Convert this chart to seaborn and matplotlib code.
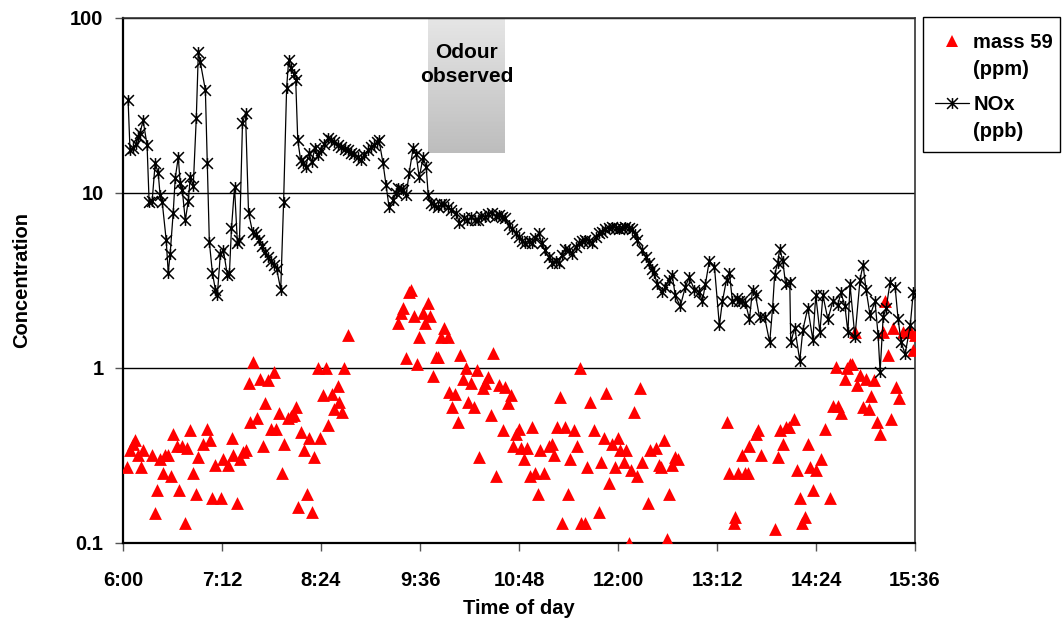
import numpy as np
import pandas as pd
import seaborn as sns
import matplotlib.pyplot as plt
from matplotlib.path import Path
from matplotlib.lines import Line2D
from matplotlib.patches import Rectangle

# times are minutes after midnight
nox_time = [363.7, 365.1, 367.3, 369.5, 371.0, 372.4, 374.6, 377.5, 379.0, 381.2,
            383.4, 385.6, 387.0, 388.5, 391.4, 392.9, 394.3, 396.5, 398.0, 400.2,
            401.6, 403.1, 405.3, 407.5, 408.9, 411.1, 413.3, 414.8, 416.2, 419.9,
            421.3, 422.8, 425.0, 427.2, 428.6, 430.8, 433.0, 435.9, 437.4, 438.9,
            441.1, 443.2, 444.7, 446.9, 449.1, 451.3, 454.2, 456.4, 458.6, 460.8,
            463.0, 465.2, 467.4, 469.5, 471.7, 474.7, 476.8, 479.0, 480.5, 481.9,
            484.1, 485.6, 487.1, 489.2, 490.7, 492.9, 495.1, 497.3, 499.5, 501.7,
            503.8, 506.0, 509.0, 511.2, 513.3, 516.3, 518.5, 521.4, 523.6, 525.8,
            528.0, 530.9, 533.1, 535.2, 538.2, 540.4, 542.6, 544.7, 546.2, 549.1,
            551.3, 553.5, 556.4, 558.6, 560.1, 562.3, 563.7, 565.9, 568.1, 571.0,
            573.2, 575.4, 578.3, 580.5, 582.0, 584.2, 586.4, 589.3, 591.5, 593.7,
            596.6, 598.8, 602.4, 604.6, 608.3, 610.5, 613.4, 616.3, 618.5, 620.7,
            622.9, 625.8, 628.0, 630.9, 633.1, 635.3, 637.5, 640.4, 642.6, 645.5,
            647.7, 649.9, 652.1, 655.0, 657.2, 659.4, 662.3, 664.5, 666.7, 669.6,
            671.8, 674.7, 676.9, 679.1, 681.3, 684.2, 686.4, 689.3, 691.5, 693.7,
            695.9, 698.8, 701.0, 703.9, 706.1, 708.3, 710.5, 713.4, 715.6, 718.5,
            720.7, 722.9, 725.1, 728.0, 730.2, 732.4, 733.9, 737.5, 740.4, 742.6,
            744.8, 746.3, 748.5, 752.1, 754.3, 757.2, 759.4, 761.6, 765.3, 768.9,
            771.8, 775.5, 779.1, 781.3, 783.5, 786.4, 790.1, 793.7, 795.9, 798.9,
            801.0, 803.2, 806.2, 808.3, 810.5, 812.7, 815.6, 817.8, 820.0, 822.9,
            826.6, 830.3, 832.4, 833.9, 836.1, 837.6, 839.8, 841.9, 844.9, 845.6,
            848.5, 852.2, 854.4, 858.0, 861.7, 863.8, 866.8, 869.0, 872.6, 876.2,
            879.9, 882.1, 885.0, 887.2, 888.7, 892.3, 896.0, 898.2, 900.4, 903.3,
            906.9, 909.1, 910.6, 912.8, 915.0, 917.9, 921.5, 923.7, 925.9, 928.8,
            932.5, 934.7, 936.9]
nox_ppb = [34, 17.6, 18, 19, 21, 22, 26, 18.8, 8.9, 9,
           14.8, 13, 9.7, 8.9, 5.4, 3.5, 4.5, 7.7, 12.2, 16,
           11.4, 10.4, 7, 9, 12.3, 11, 26.8, 64, 56, 38.8,
           14.8, 5.25, 3.5, 2.8, 2.6, 4.5, 4.7, 3.4, 3.5, 6.3,
           10.8, 5.2, 5.4, 25, 28.7, 7.7, 6, 5.8, 5.4, 5.0,
           4.6, 4.3, 4.1, 3.9, 3.7, 2.8, 8.9, 40, 57.5, 52,
           48, 44, 20, 15.4, 14.8, 14, 17, 15, 18, 16.5,
           17.6, 19, 20.6, 20, 19.5, 18.8, 18.3, 17.8, 17.6, 17,
           16.6, 16, 15.4, 16.5, 17.6, 18.3, 18.8, 19.5, 20, 14.8,
           11.1, 8.3, 9.1, 10, 10.7, 10.5, 10.4, 9.7, 13, 18,
           16.6, 12.3, 16, 14, 9.7, 8.8, 8.5, 8.3, 8.6, 8.7,
           8.3, 8, 7.7, 6.7, 7.2, 7.0, 7.3, 7.0, 7.0, 7.4,
           7.3, 7.6, 7.7, 7.4, 7.5, 7.3, 7.2, 6.6, 6.2, 5.9,
           5.6, 5.3, 5.2, 5.3, 5.2, 5.5, 5.9, 5.2, 4.7, 4.3,
           4.0, 4.1, 4.0, 4.4, 4.8, 4.7, 4.5, 4.9, 5.2, 5.3,
           5.4, 5.3, 5.2, 5.6, 5.9, 6.0, 6.2, 6.3, 6.4, 6.3,
           6.2, 6.3, 6.4, 6.3, 6.2, 5.8, 5.4, 4.7, 4.3, 4.0,
           3.7, 3.5, 3.0, 2.7, 2.9, 3.2, 3.4, 2.6, 2.25, 2.9,
           3.3, 2.8, 2.7, 2.4, 3.0, 4.1, 3.8, 1.75, 2.4, 3.2,
           3.5, 2.4, 2.5, 2.4, 2.4, 2.35, 1.9, 2.8, 2.6, 1.95,
           1.95, 1.4, 2.2, 3.4, 4.0, 4.8, 4.1, 3.0, 3.1, 1.4,
           1.7, 1.1, 1.65, 2.2, 1.45, 2.6, 1.6, 2.6, 1.9, 2.4,
           2.3, 2.7, 2.25, 1.6, 3.0, 1.5, 3.2, 3.9, 2.8, 2.0,
           2.4, 1.55, 0.95, 1.95, 2.2, 3.1, 2.9, 1.9, 1.4, 1.2,
           1.75, 2.7, 2.6]

m59_time = [362.9, 365.1, 367.3, 368.8, 371.0, 373.1, 374.6, 381.2, 383.4, 384.8,
            387.0, 389.2, 390.7, 392.9, 395.1, 396.5, 399.4, 400.9, 403.1, 405.3,
            406.7, 408.9, 411.1, 413.3, 414.8, 418.4, 421.3, 423.5, 425.0, 427.2,
            431.6, 433.0, 436.7, 439.6, 440.3, 443.2, 445.4, 447.6, 449.8, 451.3,
            452.7, 454.9, 457.8, 459.3, 461.5, 463.0, 465.2, 467.4, 469.5, 471.0,
            473.2, 475.4, 476.8, 479.8, 481.9, 484.1, 485.6, 487.1, 489.2, 491.4,
            493.6, 495.1, 497.3, 498.7, 501.7, 503.1, 505.3, 507.5, 509.0, 511.9,
            513.3, 516.3, 517.0, 519.2, 520.7, 523.6,
            560.1, 562.3, 563.7, 565.9, 568.1, 569.6, 571.8, 574.0, 575.4, 578.3,
            579.8, 582.0, 583.4, 585.6, 587.8, 589.3, 591.5, 593.7, 596.6, 597.3,
            599.5, 601.7, 603.9, 605.3, 607.5, 609.7, 611.2, 613.4, 615.6, 617.8,
            619.2, 622.1, 623.6, 625.8, 627.3, 629.4, 630.9, 633.1, 636.0, 637.5,
            639.7, 641.9, 643.3, 645.5, 647.7, 649.2, 651.3, 653.5, 655.7, 657.2,
            659.4, 661.6, 663.0, 666.0, 669.6, 671.8, 673.3, 675.4, 677.6, 679.1,
            681.3, 683.5, 684.9, 687.9, 690.1, 692.2, 693.0, 695.9, 697.3, 699.5,
            702.5, 706.1, 707.6, 709.8, 711.2, 713.4, 715.6, 717.8, 720.0, 721.5,
            724.4, 725.8, 728.0, 729.5, 731.7, 733.9, 736.1, 737.5, 741.9, 743.4,
            747.7, 749.9, 751.4, 753.6, 755.8, 757.2, 759.4, 761.6, 763.8,
            799.6, 801.0, 804.0, 805.4, 807.6, 809.8, 812.7, 814.2, 815.6, 820.0,
            821.5, 823.7, 833.9, 836.1, 837.6, 839.8, 841.9, 844.1, 847.8, 850.0,
            852.2, 853.6, 855.8, 858.0, 859.5, 861.7, 863.8, 867.5, 870.4, 874.1,
            876.2, 878.4, 879.9, 882.1, 885.0, 886.5, 888.7, 890.1, 892.3, 893.8,
            896.0, 898.2, 900.4, 902.5, 904.0, 906.2, 908.4, 910.6, 912.8, 914.3,
            916.4, 918.6, 920.1, 922.3, 924.4, 927.4, 931.0, 933.2, 934.7, 936.1]
m59_ppm = [0.27, 0.34, 0.37, 0.39, 0.32, 0.27, 0.34, 0.32, 0.148, 0.2,
           0.30, 0.25, 0.32, 0.32, 0.24, 0.42, 0.36, 0.2, 0.36, 0.13,
           0.35, 0.44, 0.25, 0.19, 0.31, 0.37, 0.45, 0.39, 0.18, 0.28,
           0.18, 0.30, 0.28, 0.40, 0.32, 0.17, 0.30, 0.33, 0.34, 0.82,
           0.49, 1.08, 0.52, 0.87, 0.36, 0.63, 0.85, 0.45, 0.95, 0.45,
           0.55, 0.25, 0.37, 0.52, 0.53, 0.54, 0.6, 0.16, 0.43, 0.34,
           0.19, 0.40, 0.15, 0.31, 1.0, 0.40, 0.70, 1.0, 0.47, 0.71,
           0.58, 0.79, 0.64, 0.56, 1.0, 1.55,
           1.8, 2.06, 2.2, 1.14, 2.7, 2.8, 1.97, 1.05, 1.5, 2.06,
           1.8, 2.35, 1.97, 0.9, 1.15, 1.15, 1.5, 1.7, 1.5, 0.73,
           0.6, 0.71, 0.49, 1.19, 0.87, 1.0, 0.64, 0.82, 0.6, 0.98,
           0.31, 0.77, 0.82, 0.89, 0.54, 1.22, 0.24, 0.8, 0.44, 0.78,
           0.63, 0.70, 0.36, 0.42, 0.45, 0.35, 0.30, 0.35, 0.24, 0.46,
           0.25, 0.19, 0.34, 0.25, 0.36, 0.37, 0.32, 0.46, 0.68, 0.13,
           0.46, 0.19, 0.30, 0.44, 0.36, 1.0, 0.13, 0.13, 0.27, 0.64,
           0.44, 0.15, 0.29, 0.40, 0.72, 0.22, 0.37, 0.27, 0.40, 0.34,
           0.29, 0.34, 0.1, 0.26, 0.56, 0.24, 0.77, 0.29, 0.17, 0.34,
           0.35, 0.28, 0.27, 0.39, 0.105, 0.19, 0.28, 0.31, 0.30,
           0.49, 0.25, 0.13, 0.14, 0.25, 0.32, 0.25, 0.25, 0.36, 0.42,
           0.44, 0.32, 0.12, 0.31, 0.44, 0.37, 0.46, 0.46, 0.51, 0.26,
           0.18, 0.13, 0.14, 0.37, 0.27, 0.2, 0.26, 0.30, 0.45, 0.18,
           0.61, 1.01, 0.61, 0.55, 0.87, 1.0, 1.05, 1.05, 1.6, 0.80,
           0.91, 0.6, 0.87, 0.58, 0.69, 0.85, 0.49, 0.42, 1.6, 2.4,
           1.19, 0.51, 1.7, 0.78, 0.67, 1.6, 1.6, 1.6, 1.27, 1.55]

x_ticks = [360, 432, 504, 576, 648, 720, 792, 864, 936]
x_labels = ["6:00", "7:12", "8:24", "9:36", "10:48", "12:00", "13:12", "14:24", "15:36"]
y_ticks = [0.1, 1, 10, 100]
y_labels = ["0.1", "1", "10", "100"]

odour_start, odour_end, odour_low = 582, 637.5, 17

nox = pd.DataFrame({"time": nox_time, "ppb": nox_ppb})
m59 = pd.DataFrame({"time": m59_time, "ppm": m59_ppm})

sns.set_style("ticks")
plt.rcParams['font.family'] = ['Liberation Sans', 'DejaVu Sans']
plt.rcParams['font.weight'] = 'bold'
plt.rcParams['axes.labelweight'] = 'bold'
plt.rcParams['text.color'] = 'black'
plt.rcParams['axes.labelcolor'] = 'black'
plt.rcParams['xtick.labelcolor'] = 'black'
plt.rcParams['ytick.labelcolor'] = 'black'

fs = 14.5

fig = plt.figure(figsize=(10.64, 6.26), dpi=100)
ax = fig.add_axes([0.1156, 0.1326, 0.7444, 0.8387])
ax.set_yscale('log')

# grey gradient box for the odour period
n = 80
edges = np.logspace(np.log10(odour_low), 2, n + 1)
greys = np.linspace(0.74, 0.90, n)
for i in range(n):
    ax.fill_between([odour_start, odour_end], edges[i], edges[i + 1],
                    color=str(greys[i]), lw=0, antialiased=False, zorder=0.5)
ax.text((odour_start + odour_end) / 2, 54, "Odour\nobserved", ha='center', va='center',
        fontsize=15, fontweight='bold', linespacing=1.35, zorder=1)

star = Path([(-1, -1), (1, 1), (-1, 1), (1, -1), (0, -1), (0, 1)],
            [Path.MOVETO, Path.LINETO] * 3)

sns.scatterplot(data=m59, x="time", y="ppm", marker='^', color='#ff0000', s=85,
                linewidth=0, ax=ax, zorder=3, legend=False)
sns.lineplot(data=nox, x="time", y="ppb", estimator=None, sort=False, ax=ax,
             color='black', lw=0.9, marker=star, markersize=7.8,
             markeredgecolor='black', markeredgewidth=1.1, zorder=4, legend=False)

ax.set_xlim(360, 936)
ax.set_ylim(0.1, 100)
ax.set_xticks(x_ticks)
ax.set_xticklabels(x_labels)
ax.set_yticks(y_ticks)
ax.set_yticklabels(y_labels)
ax.yaxis.set_minor_locator(plt.NullLocator())
ax.tick_params(axis='both', which='major', labelsize=fs, direction='out', length=6,
               width=1, color='#555555')
ax.tick_params(axis='x', pad=14)
ax.tick_params(axis='y', pad=8)
for lab in ax.get_xticklabels() + ax.get_yticklabels():
    lab.set_fontweight('bold')

ax.grid(axis='y', which='major', color='black', lw=1.0)
ax.set_axisbelow(True)
for side in ['left', 'bottom']:
    ax.spines[side].set_linewidth(1.6)
    ax.spines[side].set_color('black')
for side in ['top', 'right']:
    ax.spines[side].set_visible(True)
    ax.spines[side].set_linewidth(1.2)
    ax.spines[side].set_color('#333333')

ax.set_xlabel("Time of day", fontsize=fs, fontweight='bold', labelpad=7)
ax.set_ylabel("Concentration", fontsize=fs, fontweight='bold', labelpad=28)

# legend: frame drawn separately so it can be tight on the right like the original
fig.patches.append(Rectangle((923 / 1064, 1 - 152 / 626), 137 / 1064, 135 / 626,
                             transform=fig.transFigure, fill=False,
                             edgecolor='black', lw=1.0))
m59_handles = [
    Line2D([], [], ls='none', marker='^', color='#ff0000', markersize=9, markeredgewidth=0),
    Line2D([], [], ls='none'),
]
nox_handles = [
    Line2D([], [], color='black', lw=0.9, marker=star, markersize=7.8,
           markeredgecolor='black', markeredgewidth=1.1),
    Line2D([], [], ls='none'),
]
leg_kw = dict(loc='upper left', frameon=False, prop={'weight': 'bold', 'size': fs},
              handlelength=1.7, handletextpad=0.2, labelspacing=0.4,
              borderpad=0, borderaxespad=0)
fig.legend(m59_handles, ["mass 59", "(ppm)"],
           bbox_to_anchor=(935 / 1064, 1 - 33 / 626), **leg_kw)
fig.legend(nox_handles, ["NOx", "(ppb)"],
           bbox_to_anchor=(935 / 1064, 1 - 95 / 626), **leg_kw)

fig.savefig("out.png", dpi=100)
